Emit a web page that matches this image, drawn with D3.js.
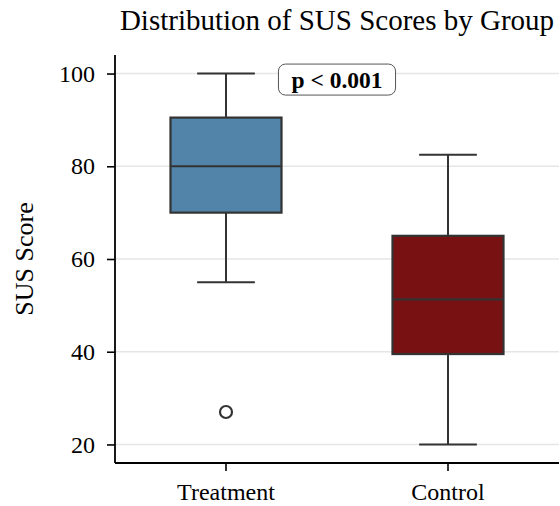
<!DOCTYPE html>
<html>
<head>
<meta charset="utf-8">
<script src="https://cdn.jsdelivr.net/npm/d3@7"></script>
<style>
  body { margin: 0; background: #fff; }
  svg text { font-family: "Liberation Serif", "Times New Roman", serif; }
</style>
</head>
<body>
<svg id="chart"></svg>
<script>
// data
const groups = ["Treatment", "Control"];
const whiskerLow = [55, 20];
const q1 = [70, 39.5];
const medians = [80, 51.3];
const q3 = [90.5, 65];
const whiskerHigh = [100, 82.5];
const outliers = [[27], []];
const boxColors = ["#5283a8", "#781212"];
const yTicks = [20, 40, 60, 80, 100];
const pLabel = "p < 0.001";

const config = {
    width: 560,
    height: 506,
    margin: { top: 55, right: 1, bottom: 43, left: 115 },
    boxFrac: 0.5,
    capFrac: 0.26,
    tickFont: 24,
};

const innerW = config.width - config.margin.left - config.margin.right;
const innerH = config.height - config.margin.top - config.margin.bottom;

const svg = d3.select("#chart")
    .attr("width", config.width)
    .attr("height", config.height);

const chart = svg.append("g")
    .attr("transform", `translate(${config.margin.left}, ${config.margin.top})`);

const xScale = d3.scaleBand()
    .domain(groups)
    .range([0, innerW])
    .padding(0);

const yScale = d3.scaleLinear()
    .domain([16, 104])
    .range([innerH, 0]);

// grid
chart.selectAll(".grid")
    .data(yTicks)
    .enter()
    .append("line")
    .attr("x1", 0)
    .attr("x2", innerW)
    .attr("y1", d => yScale(d))
    .attr("y2", d => yScale(d))
    .attr("stroke", "#e6e6e6")
    .attr("stroke-width", 1.5);

const boxes = groups.map((g, i) => ({
    group: g, lo: whiskerLow[i], q1: q1[i], med: medians[i], q3: q3[i], hi: whiskerHigh[i],
    out: outliers[i], color: boxColors[i]
}));

const bw = xScale.bandwidth() * config.boxFrac;
const cw = xScale.bandwidth() * config.capFrac;
const cx = d => xScale(d.group) + xScale.bandwidth() / 2;
const stroke = "#333333";

const bg = chart.selectAll(".box")
    .data(boxes)
    .enter()
    .append("g")
    .attr("class", "box");

// whiskers
bg.append("line")
    .attr("x1", cx).attr("x2", cx)
    .attr("y1", d => yScale(d.q3)).attr("y2", d => yScale(d.hi))
    .attr("stroke", stroke).attr("stroke-width", 2);
bg.append("line")
    .attr("x1", cx).attr("x2", cx)
    .attr("y1", d => yScale(d.q1)).attr("y2", d => yScale(d.lo))
    .attr("stroke", stroke).attr("stroke-width", 2);
bg.append("line")
    .attr("x1", d => cx(d) - cw / 2).attr("x2", d => cx(d) + cw / 2)
    .attr("y1", d => yScale(d.hi)).attr("y2", d => yScale(d.hi))
    .attr("stroke", stroke).attr("stroke-width", 2);
bg.append("line")
    .attr("x1", d => cx(d) - cw / 2).attr("x2", d => cx(d) + cw / 2)
    .attr("y1", d => yScale(d.lo)).attr("y2", d => yScale(d.lo))
    .attr("stroke", stroke).attr("stroke-width", 2);

// box
bg.append("rect")
    .attr("x", d => cx(d) - bw / 2)
    .attr("width", bw)
    .attr("y", d => yScale(d.q3))
    .attr("height", d => yScale(d.q1) - yScale(d.q3))
    .attr("fill", d => d.color)
    .attr("stroke", stroke)
    .attr("stroke-width", 2.2);

// median
bg.append("line")
    .attr("x1", d => cx(d) - bw / 2).attr("x2", d => cx(d) + bw / 2)
    .attr("y1", d => yScale(d.med)).attr("y2", d => yScale(d.med))
    .attr("stroke", stroke).attr("stroke-width", 2.2);

// outliers
bg.selectAll(".flier")
    .data(d => d.out.map(v => ({ v, x: cx(d) })))
    .enter()
    .append("circle")
    .attr("cx", d => d.x)
    .attr("cy", d => yScale(d.v))
    .attr("r", 6)
    .attr("fill", "none")
    .attr("stroke", stroke)
    .attr("stroke-width", 2.2);

// axes
const yAxis = d3.axisLeft(yScale).tickValues(yTicks).tickSize(8).tickPadding(12);
const xAxis = d3.axisBottom(xScale).tickSize(8).tickPadding(12);

const yG = chart.append("g").call(yAxis);
const xG = chart.append("g").attr("transform", `translate(0, ${innerH})`).call(xAxis);

[yG, xG].forEach(g => {
    g.select(".domain").attr("stroke", "#000").attr("stroke-width", 1.8)
        .attr("d", g === yG ? `M0,0V${innerH}` : `M0,0H${innerW}`);
    g.selectAll(".tick line").attr("stroke", "#000").attr("stroke-width", 1.6);
    g.selectAll(".tick text")
        .attr("fill", "#000")
        .style("font-size", config.tickFont + "px")
        .style("font-family", "'Liberation Serif', 'Times New Roman', serif");
});

// title and label
svg.append("text")
    .attr("x", config.margin.left + innerW / 2)
    .attr("y", 30)
    .attr("text-anchor", "middle")
    .style("font-size", "29px")
    .text("Distribution of SUS Scores by Group");

svg.append("text")
    .attr("transform", `translate(33, ${config.margin.top + innerH / 2}) rotate(-90)`)
    .attr("text-anchor", "middle")
    .style("font-size", "26px")
    .text("SUS Score");

// p-value annotation, centred between the two groups
const annX = (cx(boxes[0]) + cx(boxes[1])) / 2;
const annY = yScale(98.7);
const ann = chart.append("g");
const annText = ann.append("text")
    .attr("x", annX)
    .attr("y", annY)
    .attr("text-anchor", "middle")
    .attr("dominant-baseline", "central")
    .style("font-size", "23.5px")
    .style("font-weight", "bold")
    .text(pLabel);
const tw = annText.node().getComputedTextLength();
ann.insert("rect", "text")
    .attr("x", annX - tw / 2 - 13)
    .attr("y", annY - 15.5)
    .attr("width", tw + 26)
    .attr("height", 31)
    .attr("rx", 7)
    .attr("fill", "#fff")
    .attr("stroke", "#555")
    .attr("stroke-width", 1);
</script>
</body>
</html>
